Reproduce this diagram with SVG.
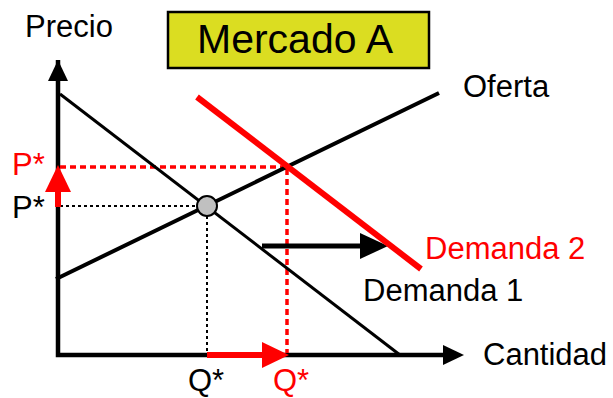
<svg xmlns="http://www.w3.org/2000/svg" width="613" height="398" viewBox="0 0 613 398">
<style>
text{font-family:"Liberation Sans",Arial,sans-serif;font-size:31px;fill:#000}
.red{fill:#ff0000}
.dotk{stroke:#000;stroke-width:2;stroke-dasharray:3 3;fill:none}
.dotr{stroke:#ff0000;stroke-width:3.5;stroke-dasharray:6 4;fill:none}
</style>
<rect width="613" height="398" fill="#fff"/>
<g id="title">
<rect x="168" y="12" width="261" height="56" fill="#dbdd21" stroke="#000" stroke-width="2.5"/>
<text x="197" y="53" style="font-size:41px">Mercado A</text>
</g>
<g id="axes">
<path d="M58 60 L58 355 L450 355" fill="none" stroke="#000" stroke-width="4.5"/>
<polygon points="58,60 48,81 68,81" fill="#000"/>
<polygon points="464,355 443,345 443,365" fill="#000"/>
<text x="25" y="37">Precio</text>
<text x="483" y="365">Cantidad</text>
</g>
<g id="connectors">
<line class="dotk" x1="60" y1="206" x2="198" y2="206"/>
<line class="dotk" x1="207" y1="216" x2="207" y2="354"/>
<line class="dotr" x1="60" y1="167" x2="287" y2="167"/>
<line class="dotr" x1="287" y1="169" x2="287" y2="353"/>
<line x1="262" y1="246" x2="362" y2="246" stroke="#000" stroke-width="5"/>
<polygon points="388,246 360,233 360,259" fill="#000"/>
<line x1="207" y1="355" x2="264" y2="355" stroke="#ff0000" stroke-width="6"/>
<polygon points="289,355 262,342 262,368" fill="#ff0000"/>
<line x1="58" y1="207" x2="58" y2="190" stroke="#ff0000" stroke-width="6"/>
<polygon points="58,165 45,192 71,192" fill="#ff0000"/>
</g>
<g id="oferta">
<line x1="56" y1="279" x2="439" y2="93" stroke="#000" stroke-width="4"/>
<text x="463" y="97">Oferta</text>
</g>
<g id="demanda1">
<line x1="60" y1="94" x2="400" y2="355" stroke="#000" stroke-width="3"/>
<text x="363" y="301">Demanda 1</text>
</g>
<g id="demanda2">
<line x1="197" y1="97" x2="421" y2="269" stroke="#ff0000" stroke-width="6"/>
<text class="red" x="425" y="259">Demanda 2</text>
</g>
<g id="equilibrio">
<circle cx="207" cy="206" r="10" fill="#c0c0c0" stroke="#000" stroke-width="2"/>
</g>
<g id="labels">
<text class="red" x="12" y="175">P*</text>
<text x="12" y="218">P*</text>
<text x="188" y="391">Q*</text>
<text class="red" x="273" y="391">Q*</text>
</g>
</svg>
